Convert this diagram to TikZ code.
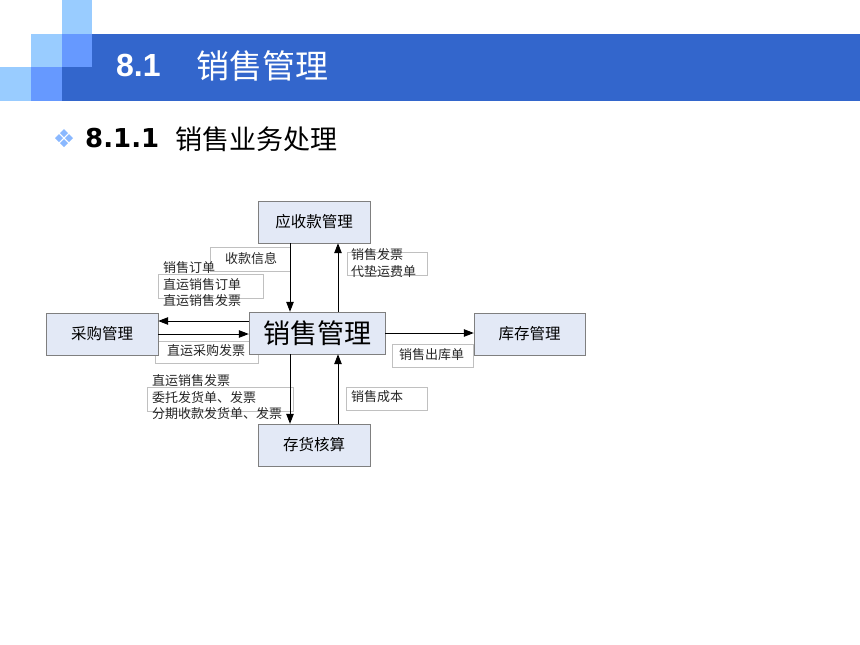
\documentclass[tikz,border=0pt]{standalone}
\usepackage{fontspec}
\setmainfont{Noto Sans CJK SC}
\newfontfamily\latinfont{Liberation Sans}
\newfontfamily\headfont{DejaVu Sans}
\usetikzlibrary{arrows.meta}

\definecolor{banner}{HTML}{3366CC}
\definecolor{sqlight}{HTML}{99CCFF}
\definecolor{sqmid}{HTML}{6699FF}
\definecolor{boxfill}{HTML}{E3E9F6}
\definecolor{boxline}{HTML}{7F7F7F}
\definecolor{tagline}{HTML}{C0C0C0}

\tikzset{
  module/.style={draw=boxline, fill=boxfill, minimum width=112, minimum height=42,
    inner sep=0pt, font=\fontsize{15.5}{18}\selectfont},
  tagbox/.style={draw=tagline, fill=white, line width=0.8pt, inner sep=0pt},
  tagtext/.style={anchor=west, inner sep=0pt, align=left, text=black!85,
    font=\fontsize{13}{16.5}\selectfont},
  flow/.style={-{Triangle[length=10pt,width=7.5pt]}, line width=1pt},
}

\begin{document}
\begin{tikzpicture}[x=1pt,y=-1pt]
    \useasboundingbox (0,0) rectangle (860,645);

    % header
    \fill[banner] (92,34) rectangle (860,101);
    \fill[banner] (62,67) rectangle (92,101);
    \fill[sqlight] (62,0) rectangle (92,34);
    \fill[sqlight] (31,34) rectangle (62,67);
    \fill[sqmid] (62,34) rectangle (92,67);
    \fill[sqlight] (0,67) rectangle (31,101);
    \fill[sqmid] (31,67) rectangle (62,101);
    \node[anchor=west, inner sep=0pt, text=white, font=\latinfont\bfseries\fontsize{32}{36}\selectfont] (secnum) at (116,65) {8.1};
    \node[anchor=west, inner sep=0pt, text=white, font=\fontsize{33}{36}\selectfont] (sectitle) at (196,66) {销售管理};

    % subtitle with bullet
    \foreach \dx/\dy in {-5/0,5/0,0/-5,0/5}
        \fill[sqlight!90!blue] (64+\dx,138+\dy) +(-4,0) -- +(0,-4) -- +(4,0) -- +(0,4) -- cycle;
    \node[anchor=west, inner sep=0pt, font=\headfont\bfseries\fontsize{26}{30}\selectfont] (subnum) at (85,138) {8.1.1};
    \node[anchor=west, inner sep=0pt, font=\fontsize{27}{30}\selectfont] (subtitle) at (175,139) {销售业务处理};

    % label frames
    \node[tagbox, minimum width=80, minimum height=24] (skbox) at (250,259) {};
    \node[tagbox, minimum width=105, minimum height=24] (ddbox) at (210.5,286) {};
    \node[tagbox, minimum width=80, minimum height=23] (fpbox) at (387,263.5) {};
    \node[tagbox, minimum width=103, minimum height=22] (cgbox) at (206.5,352) {};
    \node[tagbox, minimum width=81, minimum height=23] (ckbox) at (432.5,355.5) {};
    \node[tagbox, minimum width=146, minimum height=24] (fhbox) at (220,399) {};
    \node[tagbox, minimum width=81, minimum height=23] (cbbox) at (386.5,398.5) {};

    % label texts
    \node[tagtext] (sk) at (225,259) {收款信息};
    \node[tagtext] (dd) at (163,284.5) {销售订单\\直运销售订单\\直运销售发票};
    \node[tagtext] (fp) at (351,263) {销售发票\\代垫运费单};
    \node[tagtext] (cg) at (167,351) {直运采购发票};
    \node[tagtext] (ck) at (399,355) {销售出库单};
    \node[tagtext] (fh) at (152,397.5) {直运销售发票\\委托发货单、发票\\分期收款发货单、发票};
    \node[tagtext] (cb) at (351,397) {销售成本};

    % modules
    \node[module] (ysk) at (314,222) {应收款管理};
    \node[module, minimum width=136, font=\fontsize{27}{30}\selectfont] (xs) at (317,333) {销售管理};
    \node[module] (cgm) at (102,334) {采购管理};
    \node[module, minimum width=111] (kc) at (529.5,334) {库存管理};
    \node[module] (chs) at (314,445) {存货核算};

    % flows
    \draw[flow] (ysk.south -| 290,0) -- (xs.north -| 290,0);
    \draw[flow] (xs.north -| 338,0) -- (ysk.south -| 338,0);
    \draw[flow] (xs.west |- 0,321) -- (cgm.east |- 0,321);
    \draw[flow] (cgm.east |- 0,334) -- (xs.west |- 0,334);
    \draw[flow] (xs.east |- 0,333) -- (kc.west |- 0,333);
    \draw[flow] (xs.south -| 290,0) -- (chs.north -| 290,0);
    \draw[flow] (chs.north -| 338,0) -- (xs.south -| 338,0);
\end{tikzpicture}
\end{document}
